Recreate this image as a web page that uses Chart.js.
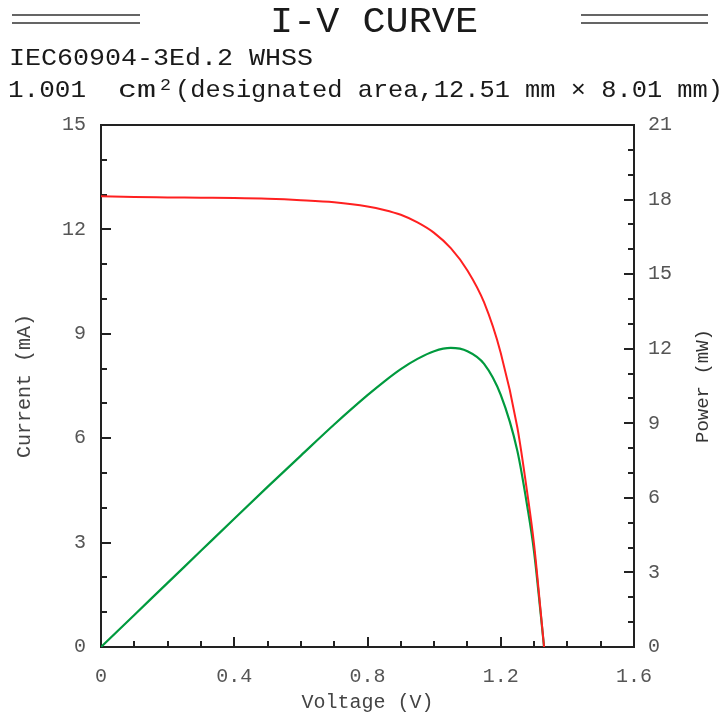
<!DOCTYPE html>
<html>
<head>
<meta charset="utf-8">
<script src="https://cdn.jsdelivr.net/npm/chart.js@4"></script>
<style>
html,body{margin:0;padding:0;background:#fff;}
canvas{display:block;}
</style>
</head>
<body>
<canvas id="c" width="725" height="713"></canvas>
<script>
// ---- data ----
const voltage = [0, 0.1, 0.2, 0.3, 0.4, 0.5, 0.6, 0.7, 0.8, 0.85, 0.9, 0.95, 1.0, 1.05, 1.1, 1.15, 1.2, 1.25, 1.28, 1.3, 1.32, 1.33];
const currentMA = [12.95, 12.93, 12.92, 12.91, 12.90, 12.88, 12.84, 12.78, 12.66, 12.56, 12.42, 12.20, 11.90, 11.46, 10.82, 9.90, 8.45, 6.30, 4.40, 2.95, 1.00, 0];
const powerMW = [0, 1.29, 2.58, 3.87, 5.16, 6.44, 7.70, 8.95, 10.13, 10.68, 11.18, 11.59, 11.90, 12.03, 11.90, 11.39, 10.14, 7.88, 5.63, 3.84, 1.32, 0];
const xTicks = [0, 0.4, 0.8, 1.2, 1.6];
const yLeftTicks = [0, 3, 6, 9, 12, 15];
const yRightTicks = [0, 3, 6, 9, 12, 15, 18, 21];

const MONO = '"Liberation Mono", "Courier New", monospace';

function fitText(ctx, text, x, y, font, width) {
  ctx.save();
  ctx.font = font;
  const w = ctx.measureText(text).width;
  ctx.translate(x, y);
  ctx.scale(width / w, 1);
  ctx.textAlign = 'left';
  ctx.textBaseline = 'alphabetic';
  ctx.fillText(text, 0, 0);
  ctx.restore();
}

const deco = {
  id: 'deco',
  beforeDatasetsDraw(chart) {
    const {ctx, chartArea: a, scales} = chart;
    ctx.save();
    ctx.strokeStyle = '#222';
    ctx.lineWidth = 2;
    ctx.strokeRect(a.left, a.top, a.right - a.left, a.bottom - a.top);
    ctx.beginPath();
    for (let i = 0; i <= 16; i++) {
      const px = Math.round(scales.x.getPixelForValue(i / 10));
      const len = (i % 4 === 0) ? 10 : 6;
      ctx.moveTo(px, a.bottom);
      ctx.lineTo(px, a.bottom - len);
    }
    for (let i = 0; i <= 15; i++) {
      const py = Math.round(scales.y.getPixelForValue(i));
      const len = (i % 3 === 0) ? 10 : 6;
      ctx.moveTo(a.left, py);
      ctx.lineTo(a.left + len, py);
    }
    for (let i = 0; i <= 21; i++) {
      const py = Math.round(scales.y2.getPixelForValue(i));
      const len = (i % 3 === 0) ? 10 : 6;
      ctx.moveTo(a.right, py);
      ctx.lineTo(a.right - len, py);
    }
    ctx.stroke();
    ctx.restore();
  },
  afterDraw(chart) {
    const {ctx, chartArea: a} = chart;
    ctx.save();
    ctx.fillStyle = '#1a1a1a';
    fitText(ctx, 'I-V CURVE', 270, 32, '36px ' + MONO, 208);
    ctx.strokeStyle = '#333';
    ctx.lineWidth = 1.5;
    ctx.beginPath();
    [15, 23].forEach(y => {
      ctx.moveTo(12, y); ctx.lineTo(140, y);
      ctx.moveTo(581, y); ctx.lineTo(708, y);
    });
    ctx.stroke();
    fitText(ctx, 'IEC60904-3Ed.2 WHSS', 9, 65, '24px ' + MONO, 304);
    fitText(ctx, '1.001', 8, 97, '24px ' + MONO, 78);
    fitText(ctx, 'cm', 118, 97, '24px ' + MONO, 38);
    fitText(ctx, '2', 160, 90, '17px ' + MONO, 11);
    fitText(ctx, '(designated area,12.51 mm \u00d7 8.01 mm)', 175, 97, '24px ' + MONO, 548);
    ctx.translate(703, (a.top + a.bottom) / 2);
    ctx.rotate(-Math.PI / 2);
    ctx.font = '19px ' + MONO;
    ctx.fillStyle = '#333';
    ctx.textAlign = 'center';
    ctx.textBaseline = 'middle';
    ctx.fillText('Power (mW)', 0, 0);
    ctx.restore();
  }
};

const tickFont = {family: MONO, size: 20};

new Chart(document.getElementById('c'), {
  type: 'line',
  data: {
    datasets: [
      {
        label: 'Current',
        data: voltage.map((v, i) => ({x: v, y: currentMA[i]})),
        borderColor: '#ff2020',
        borderWidth: 2,
        pointRadius: 0,
        cubicInterpolationMode: 'monotone',
        yAxisID: 'y'
      },
      {
        label: 'Power',
        data: voltage.map((v, i) => ({x: v, y: powerMW[i]})),
        borderColor: '#009a3e',
        borderWidth: 2.2,
        pointRadius: 0,
        cubicInterpolationMode: 'monotone',
        yAxisID: 'y2'
      }
    ]
  },
  options: {
    responsive: false,
    animation: false,
    layout: {padding: {top: 125, left: 0, right: 0, bottom: 0}},
    plugins: {legend: {display: false}, tooltip: {enabled: false}},
    scales: {
      x: {
        type: 'linear',
        position: 'bottom',
        min: 0, max: 1.6,
        afterBuildTicks: s => { s.ticks = xTicks.map(v => ({value: v})); },
        ticks: {font: tickFont, color: '#555', padding: 18, maxRotation: 0},
        grid: {display: false, drawTicks: false},
        border: {display: false},
        title: {display: true, text: 'Voltage (V)', font: {family: MONO, size: 20, lineHeight: 1}, color: '#444', padding: 0},
        afterFit: s => { s.height = 66; }
      },
      y: {
        type: 'linear',
        position: 'left',
        min: 0, max: 15,
        afterBuildTicks: s => { s.ticks = yLeftTicks.map(v => ({value: v})); },
        ticks: {font: tickFont, color: '#555', padding: 15},
        grid: {display: false, drawTicks: false},
        border: {display: false},
        title: {display: true, text: 'Current (mA)', font: {family: MONO, size: 20, lineHeight: 1.2}, color: '#444', padding: {top: 13, bottom: 0}},
        afterFit: s => { s.width = 101; }
      },
      y2: {
        type: 'linear',
        position: 'right',
        min: 0, max: 21,
        afterBuildTicks: s => { s.ticks = yRightTicks.map(v => ({value: v})); },
        ticks: {font: tickFont, color: '#555', padding: 14},
        grid: {display: false, drawTicks: false},
        border: {display: false},
        afterFit: s => { s.width = 91; }
      }
    }
  },
  plugins: [deco]
});
</script>
</body>
</html>
